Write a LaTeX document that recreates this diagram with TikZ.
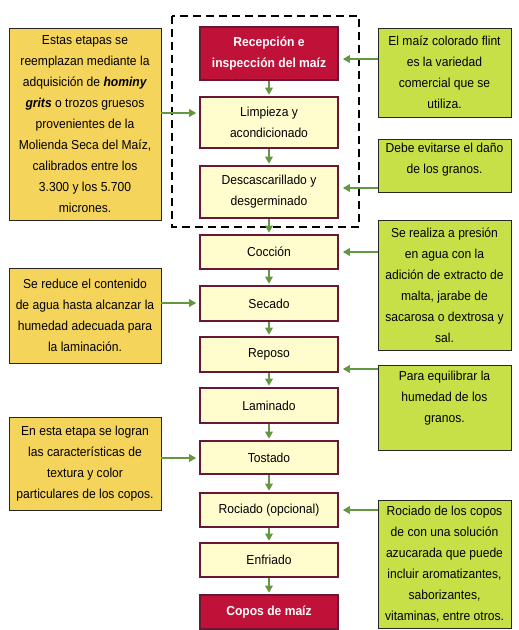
\documentclass[tikz,border=0pt]{standalone}
\usepackage{fontspec}
\setmainfont{Liberation Sans}[FakeStretch=0.93]
\usetikzlibrary{arrows.meta}
\definecolor{crim}{RGB}{192,18,56}
\definecolor{maroonb}{RGB}{105,22,55}
\definecolor{paleY}{RGB}{255,252,206}
\definecolor{goldY}{RGB}{245,212,92}
\definecolor{limeG}{RGB}{200,224,72}
\definecolor{arrG}{RGB}{98,152,64}
\tikzset{
  basefont/.style={font=\fontsize{13}{21}\selectfont, align=center, inner sep=2pt},
  stepbox/.style={basefont, draw=maroonb, line width=1.6pt, fill=paleY, minimum width=138pt},
  redbox/.style={stepbox, fill=crim, text=white, font=\fontsize{13}{20.5}\selectfont\bfseries},
  leftnote/.style={basefont, draw=black!85, line width=0.8pt, fill=goldY, minimum width=152pt},
  rightnote/.style={basefont, draw=black!85, line width=0.8pt, fill=limeG, minimum width=133pt},
  arr/.style={draw=arrG, line width=1.6pt, -{Triangle[length=7pt,width=7.5pt]}},
  groupbox/.style={draw=black, line width=1.6pt, dash pattern=on 8pt off 5pt}
}
\begin{document}
\begin{tikzpicture}[x=1pt,y=-1pt]
\useasboundingbox (0,0) rectangle (519,630);
% dashed group
\draw[groupbox] (172,16) rectangle (359,227);
% central steps
\node[redbox, minimum height=53pt] (r1) at (269,53.5) {Recepción e\\inspección del maíz};
\node[stepbox, minimum height=51pt] (limp) at (269,122.5) {Limpieza y\\acondicionado};
\node[stepbox, minimum height=52pt] (desc) at (269,192) {Descascarillado y\\desgerminado};
\node[stepbox, minimum height=34pt] (cocc) at (269,252) {Cocción};
\node[stepbox, minimum height=35pt] (sec) at (269,303.5) {Secado};
\node[stepbox, minimum height=35pt] (rep) at (269,354.5) {Reposo};
\node[stepbox, minimum height=35pt] (lam) at (269,405.5) {Laminado};
\node[stepbox, minimum height=33pt] (tost) at (269,457.5) {Tostado};
\node[stepbox, minimum height=34pt] (roc) at (269,510) {Rociado (opcional)};
\node[stepbox, minimum height=34pt] (enf) at (269,560) {Enfriado};
\node[redbox, minimum height=34pt] (copos) at (269,612) {Copos de maíz};
% vertical arrows
\foreach \a/\b in {r1/limp, limp/desc, desc/cocc, cocc/sec, sec/rep, rep/lam, lam/tost, tost/roc, roc/enf, enf/copos}
  \draw[arr, shorten >=1.5pt] (\a.south) -- (\b.north);
% left notes
\node[leftnote, minimum height=192pt] (L1) at (85,124) {Estas etapas se\\reemplazan mediante la\\adquisición de \textbf{\itshape hominy}\\\textbf{\itshape grits} o trozos gruesos\\provenientes de la\\Molienda Seca del Maíz,\\calibrados entre los\\3.300 y los 5.700\\micrones.};
\node[leftnote, minimum height=95pt] (L2) at (85,315.5) {Se reduce el contenido\\de agua hasta alcanzar la\\humedad adecuada para\\la laminación.};
\node[leftnote, minimum height=93pt] (L3) at (85,463.5) {En esta etapa se logran\\las características de\\textura y color\\particulares de los copos.};
% right notes
\node[rightnote, minimum height=89pt] (R1) at (444.5,72.5) {El maíz colorado flint\\es la variedad\\comercial que se\\utiliza.};
\node[rightnote, minimum height=53pt] (R2) at (444.5,165.5) {Debe evitarse el daño\\de los granos.\\[-6pt]\mbox{}};
\node[rightnote, minimum height=130pt] (R3) at (444.5,285) {Se realiza a presión\\en agua con la\\adición de extracto de\\malta, jarabe de\\sacarosa o dextrosa y\\sal.};
\node[rightnote, minimum height=85pt] (R4) at (444.5,407.5) {Para equilibrar la\\humedad de los\\granos.\\\mbox{}};
\node[rightnote, minimum height=128pt] (R5) at (444.5,564) {Rociado de los copos\\de con una solución\\azucarada que puede\\incluir aromatizantes,\\saborizantes,\\vitaminas, entre otros.};
% arrow rows
\coordinate (y1) at (0,113);
\coordinate (y2) at (0,303);
\coordinate (y3) at (0,458);
\coordinate (z1) at (0,59);
\coordinate (z2) at (0,188);
\coordinate (z3) at (0,252);
\coordinate (z4) at (0,369);
\coordinate (z5) at (0,510);
% left arrows
\draw[arr, shorten >=3pt] (L1.east |- y1) -- (limp.west |- y1);
\draw[arr, shorten >=3pt] (L2.east |- y2) -- (sec.west |- y2);
\draw[arr, shorten >=3pt] (L3.east |- y3) -- (tost.west |- y3);
% right arrows
\draw[arr, shorten >=4pt] (R1.west |- z1) -- (r1.east |- z1);
\draw[arr, shorten >=4pt] (R2.west |- z2) -- (desc.east |- z2);
\draw[arr, shorten >=4pt] (R3.west |- z3) -- (cocc.east |- z3);
\draw[arr, shorten >=4pt] (R4.west |- z4) -- (rep.east |- z4);
\draw[arr, shorten >=4pt] (R5.west |- z5) -- (roc.east |- z5);
\end{tikzpicture}
\end{document}
